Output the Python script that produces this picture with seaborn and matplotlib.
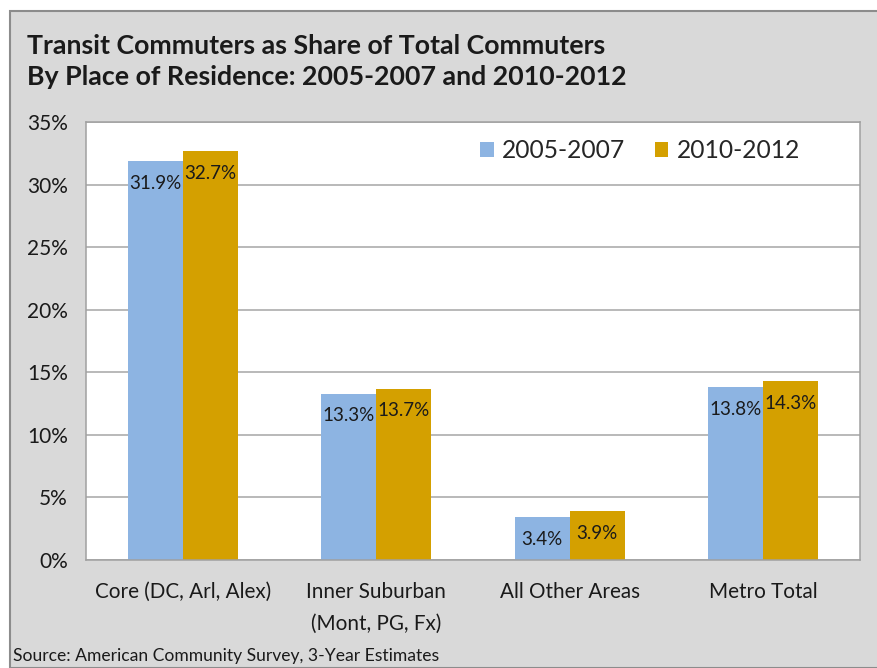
import pandas as pd
import matplotlib.pyplot as plt
import seaborn as sns
from matplotlib.patches import Rectangle
from matplotlib.ticker import FuncFormatter, MultipleLocator, FixedLocator

# data
areas = ["Core (DC, Arl, Alex)", "Inner Suburban\n(Mont, PG, Fx)", "All Other Areas", "Metro Total"]
periods = ["2005-2007", "2010-2012"]
share_2005_2007 = [31.9, 13.3, 3.4, 13.8]
share_2010_2012 = [32.7, 13.7, 3.9, 14.3]
colors = ["#8DB4E2", "#D4A000"]

df = pd.DataFrame({
    "area": areas * 2,
    "period": [periods[0]] * 4 + [periods[1]] * 4,
    "share": share_2005_2007 + share_2010_2012,
})

sns.set_style("white")
plt.rcParams["font.family"] = ["Lato", "DejaVu Sans"]

W, H = 878, 668
fig = plt.figure(figsize=(W / 100, H / 100), dpi=100, facecolor="white")

# outer gray chart frame
fig.patches.append(Rectangle((10 / W, 0), 1, 1 - 11 / H, transform=fig.transFigure,
                             facecolor="#d9d9d9", edgecolor="#8c8c8c", linewidth=1.5, zorder=-1))

ax = fig.add_axes([86 / W, (H - 560) / H, (860 - 86) / W, (560 - 122) / H])
ax.set_zorder(1)
ax.set_facecolor("white")

sns.barplot(data=df, x="area", y="share", hue="period", hue_order=periods,
            palette=colors, width=0.57, saturation=1, ax=ax, linewidth=0)

ax.set_ylim(0, 35)
ax.set_xlim(-0.5, 3.5)
ax.yaxis.set_major_locator(MultipleLocator(5))
ax.yaxis.set_major_formatter(FuncFormatter(lambda v, p: f"{v:.0f}%"))
ax.grid(axis="y", color="#a6a6a6", linewidth=1.1)
ax.set_axisbelow(True)
for s in ax.spines.values():
    s.set_color("#a0a0a0")
    s.set_linewidth(1.1)

ax.set_xlabel("")
ax.set_ylabel("")
ax.tick_params(axis="y", length=5, width=1.1, color="#a0a0a0", direction="out",
               labelsize=15, pad=8, labelcolor="#1a1a1a")
ax.tick_params(axis="x", which="major", length=0, labelsize=14.9, pad=16, labelcolor="#1a1a1a")
ax.xaxis.set_minor_locator(FixedLocator([-0.5, 0.5, 1.5, 2.5, 3.5]))
ax.tick_params(axis="x", which="minor", length=5, width=1.1, color="#a0a0a0", direction="out")
for t in ax.get_xticklabels():
    t.set_linespacing(1.75)

# value labels just inside the top of each bar
for cont in ax.containers:
    for bar in cont:
        v = bar.get_height()
        ax.annotate(f"{v:.1f}%", (bar.get_x() + bar.get_width() / 2, v),
                    xytext=(0, -16), textcoords="offset points",
                    ha="center", va="center", fontsize=13.5, color="#1a1a1a")

ax.legend(loc="center left", bbox_to_anchor=(480 / W, 1 - 151 / H),
          bbox_transform=fig.transFigure, ncol=2, frameon=False, fontsize=17.7,
          handlelength=0.55, handleheight=0.55, handletextpad=0.35, columnspacing=1.2,
          borderpad=0, borderaxespad=0)

fig.text(27 / W, 1 - 46 / H, "Transit Commuters as Share of Total Commuters",
         fontsize=19.3, fontweight="bold", va="center", ha="left", color="#1a1a1a")
fig.text(27 / W, 1 - 77 / H, "By Place of Residence: 2005-2007 and 2010-2012",
         fontsize=19.3, fontweight="bold", va="center", ha="left", color="#1a1a1a")
fig.text(13 / W, 1 - 656 / H, "Source: American Community Survey, 3-Year Estimates",
         fontsize=12.6, va="center", ha="left", color="#1a1a1a")

plt.savefig("out.png", dpi=100, facecolor=fig.get_facecolor())
plt.close()
